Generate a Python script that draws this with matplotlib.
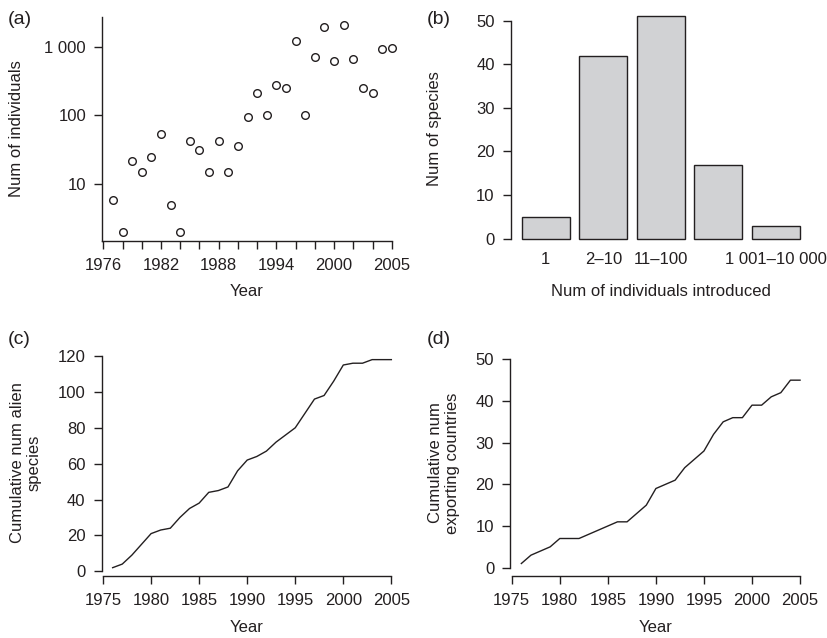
import numpy as np
import matplotlib.pyplot as plt

# =========================
# Data
# =========================
# (a) individuals imported per year (log scale), plotted at year index 1..30
counts_a = [6, 2, 22, 15, 25, 54, 5, 2, 42, 31, 15, 43, 15, 36, 96,
            215, 100, 281, 246, 1194, 100, 716, 1928, 607, 2037, 655,
            246, 215, 925, 968]
ticks_a = list(range(0, 31, 2))
ticklabels_a = {0: "1976", 6: "1982", 12: "1988", 18: "1994",
                24: "2000", 30: "2005"}

# (b) species per class of number introduced
classes_b = ["1", "2\u201310", "11\u2013100", "101\u20131 000", "1 001\u201310 000"]
shown_labels_b = ["1", "2\u201310", "11\u2013100", "", "1 001\u201310 000"]
species_b = [5, 42, 51, 17, 3]

# (c), (d) cumulative curves
years = list(range(1976, 2006))
cum_species = [2, 4, 9, 15, 21, 23, 24, 30, 35, 38, 44, 45, 47, 56, 62,
               64, 67, 72, 76, 80, 88, 96, 98, 106, 115, 116, 116, 118, 118, 118]
cum_countries = [1, 3, 4, 5, 7, 7, 7, 8, 9, 10, 11, 11, 13, 15, 19,
                 20, 21, 24, 26, 28, 32, 35, 36, 36, 39, 39, 41, 42, 45, 45]

# =========================
# Style
# =========================
INK = "#231f20"
plt.rcParams["font.family"] = ["Liberation Sans", "DejaVu Sans"]
plt.rcParams["font.size"] = 12
plt.rcParams["text.color"] = INK
plt.rcParams["axes.labelcolor"] = INK
plt.rcParams["xtick.color"] = INK
plt.rcParams["ytick.color"] = INK

W, H = 827, 638
fig = plt.figure(figsize=(W / 100, H / 100), dpi=100)


def add_ax(left, right, top, bottom):
    # pixel box (top-left origin) -> figure fraction
    return fig.add_axes([left / W, 1 - bottom / H, (right - left) / W, (bottom - top) / H])


def r_style(ax):
    for s in ("top", "right"):
        ax.spines[s].set_visible(False)
    for s in ("left", "bottom"):
        ax.spines[s].set_linewidth(1.0)
        ax.spines[s].set_color(INK)
    ax.tick_params(direction="out", length=5.5, width=1.0, pad=6)
    ax.tick_params(axis="x", pad=7)
    ax.patch.set_visible(False)


def ylab(ax, text, px, py):
    # y label centred at a pixel position, like R's mtext line 3
    ax.set_ylabel(text, va="center", ha="center", linespacing=1.15)
    ax.yaxis.set_label_coords(px / W, 1 - py / H, transform=fig.transFigure)


def xlab(ax, text, px, py):
    ax.set_xlabel(text, va="center", ha="center")
    ax.xaxis.set_label_coords(px / W, 1 - py / H, transform=fig.transFigure)


# =========================
# (a)
# =========================
ax = add_ax(102, 402.9, 17, 240.7)
r_style(ax)
ax.plot(np.arange(1, len(counts_a) + 1), counts_a, "o", mfc="none",
        mec=INK, mew=1.0, ms=5.5)
ax.set_yscale("log")
ax.set_xlim(-0.14, 31.16)
ax.set_ylim(10 ** 0.181, 10 ** 3.429)
ax.set_yticks([10, 100, 1000])
ax.set_yticklabels(["10", "100", "1 000"])
ax.yaxis.set_minor_locator(plt.NullLocator())
ax.set_xticks(ticks_a)
ax.set_xticklabels([ticklabels_a.get(t, "") for t in ticks_a])
ax.spines["bottom"].set_bounds(-0.14, 30)
xlab(ax, "Year", 247, 292)
ylab(ax, "Num of individuals", 17, 129)
fig.text(8 / W, 1 - 20 / H, "(a)", fontsize=14, va="center", ha="left")

# =========================
# (b)
# =========================
ax = add_ax(510.6, 811, 7.4, 247.6)
r_style(ax)
xb = 0.7 + 1.2 * np.arange(len(species_b))
ax.bar(xb, species_b, width=1.0, color="#d1d2d4", edgecolor=INK, linewidth=1.0)
ax.set_xlim(-0.032, 6.232)
ax.set_ylim(-2.04, 53.04)
ax.set_yticks(range(0, 51, 10))
ax.spines["left"].set_bounds(0, 50)
ax.spines["bottom"].set_visible(False)
ax.set_xticks(xb)
ax.set_xticklabels(shown_labels_b)
ax.tick_params(axis="x", length=0, pad=3)
xlab(ax, "Num of individuals introduced", 661, 292)
ylab(ax, "Num of species", 435, 129)
fig.text(427 / W, 1 - 19 / H, "(b)", fontsize=14, va="center", ha="left")

# =========================
# (c)
# =========================
ax = add_ax(101.5, 402.5, 351.3, 576)
r_style(ax)
ax.plot(years, cum_species, color=INK, lw=1.0)
ax.set_xlim(1974.84, 2006.16)
ax.set_ylim(-2.64, 122.64)
ax.set_xticks(range(1975, 2006, 5))
ax.set_yticks(range(0, 121, 20))
ax.spines["left"].set_bounds(0, 120)
ax.spines["bottom"].set_bounds(1975, 2005)
xlab(ax, "Year", 247, 627)
ylab(ax, "Cumulative num alien\nspecies", 26, 463)
fig.text(8 / W, 1 - 339 / H, "(c)", fontsize=14, va="center", ha="left")

# =========================
# (d)
# =========================
ax = add_ax(510.2, 811.2, 351, 576)
r_style(ax)
ax.plot(years, cum_countries, color=INK, lw=1.0)
ax.set_xlim(1974.84, 2006.16)
ax.set_ylim(-2, 52)
ax.set_xticks(range(1975, 2006, 5))
ax.set_yticks(range(0, 51, 10))
ax.spines["left"].set_bounds(0, 50)
ax.spines["bottom"].set_bounds(1975, 2005)
xlab(ax, "Year", 656, 627)
ylab(ax, "Cumulative num\nexporting countries", 444, 463)
fig.text(427 / W, 1 - 339 / H, "(d)", fontsize=14, va="center", ha="left")

fig.savefig("out.png", dpi=100)
